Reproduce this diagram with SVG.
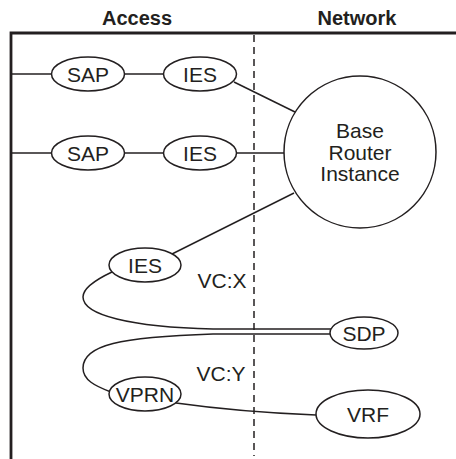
<svg xmlns="http://www.w3.org/2000/svg" width="456" height="459" viewBox="0 0 456 459">
<style>
.n{fill:#fff;stroke:#231f20;stroke-width:1.5}
.t{font-family:"Liberation Sans",Arial,sans-serif;font-size:21px;fill:#231f20;text-anchor:middle}
.h{font-family:"Liberation Sans",Arial,sans-serif;font-size:20px;font-weight:bold;fill:#231f20;text-anchor:middle}
.c{fill:none;stroke:#231f20;stroke-width:1.5}
</style>
<rect width="456" height="459" fill="#fff"/>
<g id="headers">
<text class="h" x="137" y="25">Access</text>
<text class="h" x="357" y="25">Network</text>
</g>
<g id="frame">
<path d="M11,459 V33 H456" fill="none" stroke="#231f20" stroke-width="2.8"/>
<line x1="254" y1="35" x2="254" y2="456" stroke="#231f20" stroke-width="1.5" stroke-dasharray="7,5"/>
</g>
<g id="connectors">
<line class="c" x1="11" y1="74" x2="52" y2="74"/>
<line class="c" x1="123" y1="74" x2="164" y2="74"/>
<line class="c" x1="234" y1="82" x2="295" y2="112"/>
<line class="c" x1="11" y1="153" x2="52" y2="153"/>
<line class="c" x1="123" y1="153" x2="164" y2="153"/>
<line class="c" x1="236" y1="153" x2="284" y2="153"/>
<line class="c" x1="172" y1="254" x2="294" y2="193"/>
<path class="c" d="M112,272 C95,280 83,288 83,297 C83,315 130,327 213,329 L331,329"/>
<path class="c" d="M331,334 L213,334 C120,337 83,345 83,368 C83,380 95,386 111,392"/>
<path class="c" d="M176,403 Q240,412 316,415"/>
</g>
<g id="sap1"><ellipse class="n" cx="88" cy="74" rx="36.5" ry="17"/><text class="t" x="88" y="82">SAP</text></g>
<g id="ies1"><ellipse class="n" cx="200" cy="74" rx="36.5" ry="17"/><text class="t" x="200" y="82">IES</text></g>
<g id="sap2"><ellipse class="n" cx="88" cy="153" rx="36.5" ry="17"/><text class="t" x="88" y="161">SAP</text></g>
<g id="ies2"><ellipse class="n" cx="200" cy="153" rx="36.5" ry="17"/><text class="t" x="200" y="161">IES</text></g>
<g id="bri"><circle class="n" cx="360" cy="152" r="76"/>
<text class="t" x="360" y="138">Base</text><text class="t" x="360" y="160">Router</text><text class="t" x="360" y="181">Instance</text></g>
<g id="ies3"><ellipse class="n" cx="145" cy="265" rx="36" ry="17"/><text class="t" x="145" y="273">IES</text></g>
<g id="sdp"><ellipse class="n" cx="364" cy="333" rx="34" ry="16"/><text class="t" x="364" y="341">SDP</text></g>
<g id="vprn"><ellipse class="n" cx="145" cy="394" rx="36" ry="17"/><text class="t" x="145" y="402">VPRN</text></g>
<g id="vrf"><ellipse class="n" cx="368" cy="414" rx="52" ry="24"/><text class="t" x="368" y="422">VRF</text></g>
<g id="labels">
<text class="t" x="222" y="288">VC:X</text>
<text class="t" x="221" y="381">VC:Y</text>
</g>
</svg>
